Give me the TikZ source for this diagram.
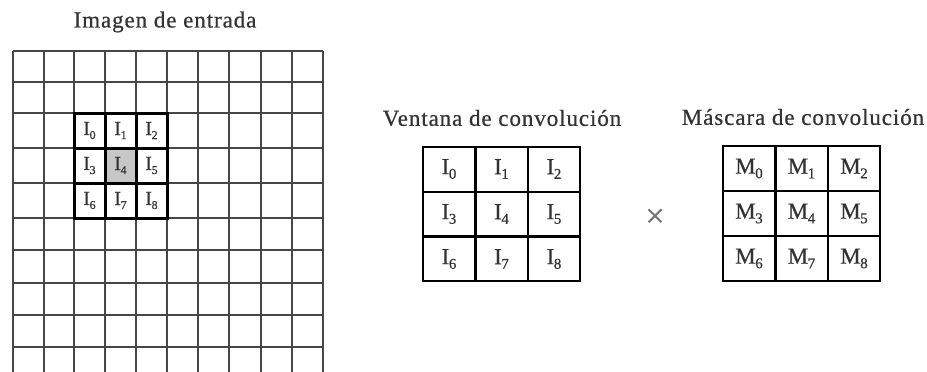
\documentclass[tikz,border=0pt]{standalone}
\usepackage{fontspec}
\setmainfont{Liberation Serif}[FakeBold=0.6]
\newcommand\idxlab[3]{#1\kern-0.02em\raisebox{-0.2em}{\fontsize{#3}{#3}\selectfont #2}}
\begin{document}
\begin{tikzpicture}[x=1pt,y=-1pt,
  gridline/.style={draw=black!72,line width=1.7pt},
  winline/.style={draw=black,line width=3pt},
  boxline/.style={draw=black,line width=2.4pt},
  title/.style={font=\addfontfeatures{LetterSpace=4}\fontsize{23}{23}\selectfont,text=black!80,inner sep=0pt},
  biglab/.style={font=\fontsize{23}{23}\selectfont,text=black!80,inner sep=0pt},
  smalllab/.style={font=\fontsize{20}{20}\selectfont,text=black!80,inner sep=0pt}]
\useasboundingbox (0,0) rectangle (927,372);
\clip (0,0) rectangle (927,372);
% left grid
\fill[black!22] (105,148) rectangle (136,183);
\foreach \x in {13,44,74,105,136,167,198,229,261,292,323}
  \draw[gridline] (\x,51) -- (\x,380);
\foreach \y in {51,82,113,148,183,218,250,283,315,347}
  \draw[gridline] (13,\y) -- (323,\y);
\draw[winline] (74,113) rectangle (167,218);
\foreach \x in {105,136} \draw[winline] (\x,113) -- (\x,218);
\foreach \y in {148,183} \draw[winline] (74,\y) -- (167,\y);
\node[title] (t1) at (165,22) {Imagen de entrada};
\foreach \i/\cx/\cy in {0/89.5/130.5,1/120.5/130.5,2/151.5/130.5,3/89.5/165.5,4/120.5/165.5,5/151.5/165.5,6/89.5/200.5,7/120.5/200.5,8/151.5/200.5}
  \node[smalllab] (s\i) at (\cx,\cy) {\idxlab{I}{\i}{12}};
% middle grid
\node[title] (t2) at (502,118) {Ventana de convolución};
\draw[boxline] (423,147) rectangle (580,281);
\foreach \x in {475.3,527.7} \draw[boxline] (\x,147) -- (\x,281);
\foreach \y in {191.7,236.3} \draw[boxline] (423,\y) -- (580,\y);
\foreach \i/\cx/\cy in {0/449/169,1/501.5/169,2/554/169,3/449/214,4/501.5/214,5/554/214,6/449/259,7/501.5/259,8/554/259}
  \node[biglab] (w\i) at (\cx,\cy) {\idxlab{I}{\i}{15}};
% times
\node[text=black!55,font=\fontsize{34}{34}\selectfont,inner sep=0pt] (times) at (655,218) {×};
% right grid
\node[title] (t3) at (803,117) {Máscara de convolución};
\draw[boxline] (723,146) rectangle (880,281);
\foreach \x in {775.3,827.7} \draw[boxline] (\x,146) -- (\x,281);
\foreach \y in {191,236} \draw[boxline] (723,\y) -- (880,\y);
\foreach \i/\cx/\cy in {0/749/168.5,1/801.5/168.5,2/854/168.5,3/749/213.5,4/801.5/213.5,5/854/213.5,6/749/258.5,7/801.5/258.5,8/854/258.5}
  \node[biglab] (m\i) at (\cx,\cy) {\idxlab{M}{\i}{15}};
\end{tikzpicture}
\end{document}
